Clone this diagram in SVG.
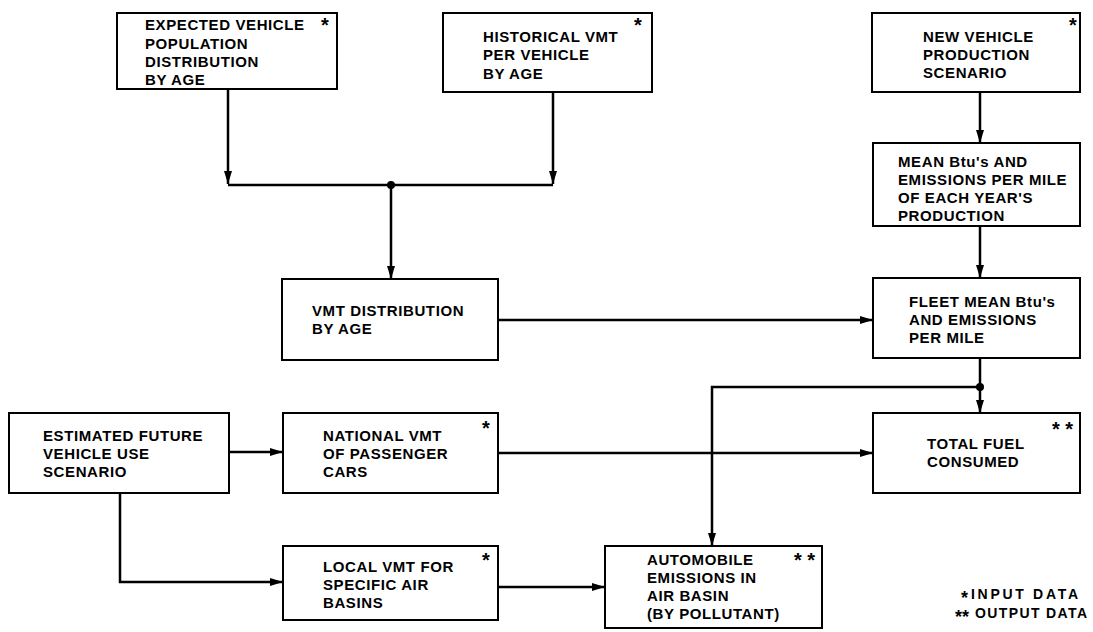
<svg xmlns="http://www.w3.org/2000/svg" width="1093" height="632" viewBox="0 0 1093 632">
<style>
.box{fill:#fff;stroke:#000;stroke-width:2}
.t{font-family:"Liberation Sans",Arial,sans-serif;font-weight:bold;font-size:15px;letter-spacing:0.6px;fill:#000}
.ast{font-family:"Liberation Sans",Arial,sans-serif;font-weight:bold;font-size:20px;fill:#000}
.la{font-family:"Liberation Sans",Arial,sans-serif;font-weight:bold;font-size:18px;fill:#000}
.lg{font-family:"Liberation Sans",Arial,sans-serif;font-weight:bold;font-size:14px;fill:#000}
.c{fill:none;stroke:#000;stroke-width:2.5}
</style>
<defs>
<marker id="ah" markerUnits="userSpaceOnUse" markerWidth="14" markerHeight="10" refX="13" refY="5" orient="auto">
<path d="M0,1 L13,5 L0,9 Z" fill="#000"/>
</marker>
</defs>
<rect width="1093" height="632" fill="#fff"/>
<g id="connectors">
<path class="c" d="M228,88 V184" marker-end="url(#ah)"/>
<path class="c" d="M553,92 V184" marker-end="url(#ah)"/>
<path class="c" d="M228,185 H553"/>
<circle cx="391" cy="185" r="4" fill="#000"/>
<path class="c" d="M391,185 V279" marker-end="url(#ah)"/>
<path class="c" d="M980,92 V143" marker-end="url(#ah)"/>
<path class="c" d="M980,226 V278" marker-end="url(#ah)"/>
<path class="c" d="M498,320 H873" marker-end="url(#ah)"/>
<path class="c" d="M980,358 V413" marker-end="url(#ah)"/>
<circle cx="980" cy="387" r="4" fill="#000"/>
<path class="c" d="M980,387 H712 V546" marker-end="url(#ah)"/>
<path class="c" d="M229,452 H283" marker-end="url(#ah)"/>
<path class="c" d="M498,453 H873" marker-end="url(#ah)"/>
<path class="c" d="M120,493 V582 H283" marker-end="url(#ah)"/>
<path class="c" d="M498,587 H605" marker-end="url(#ah)"/>
</g>
<g id="n_expected">
<rect class="box" x="117" y="13" width="220" height="76"/>
<text class="t" x="145" y="30">EXPECTED VEHICLE</text>
<text class="t" x="145" y="48.5">POPULATION</text>
<text class="t" x="145" y="67">DISTRIBUTION</text>
<text class="t" x="145" y="85">BY AGE</text>
<text class="ast" x="321" y="32">*</text>
</g>
<g id="n_historical">
<rect class="box" x="443" y="13" width="209" height="79"/>
<text class="t" x="483" y="42">HISTORICAL VMT</text>
<text class="t" x="483" y="60">PER VEHICLE</text>
<text class="t" x="483" y="79">BY AGE</text>
<text class="ast" x="634" y="32">*</text>
</g>
<g id="n_newvehicle">
<rect class="box" x="872" y="13" width="208" height="79"/>
<text class="t" x="923" y="42">NEW VEHICLE</text>
<text class="t" x="923" y="60">PRODUCTION</text>
<text class="t" x="923" y="78">SCENARIO</text>
<text class="ast" x="1069" y="32">*</text>
</g>
<g id="n_meanbtu">
<rect class="box" x="873" y="143" width="207" height="83"/>
<text class="t" x="898" y="167">MEAN Btu's AND</text>
<text class="t" x="898" y="185">EMISSIONS PER MILE</text>
<text class="t" x="898" y="203">OF EACH YEAR'S</text>
<text class="t" x="898" y="221">PRODUCTION</text>
</g>
<g id="n_fleet">
<rect class="box" x="873" y="278" width="207" height="80"/>
<text class="t" x="909" y="307">FLEET MEAN Btu's</text>
<text class="t" x="909" y="325">AND EMISSIONS</text>
<text class="t" x="909" y="343">PER MILE</text>
</g>
<g id="n_vmtdist">
<rect class="box" x="282" y="279" width="216" height="81"/>
<text class="t" x="312" y="316">VMT DISTRIBUTION</text>
<text class="t" x="312" y="334">BY AGE</text>
</g>
<g id="n_estimated">
<rect class="box" x="9" y="413" width="220" height="80"/>
<text class="t" x="43" y="441">ESTIMATED FUTURE</text>
<text class="t" x="43" y="459">VEHICLE USE</text>
<text class="t" x="43" y="477">SCENARIO</text>
</g>
<g id="n_national">
<rect class="box" x="283" y="413" width="215" height="80"/>
<text class="t" x="323" y="441">NATIONAL VMT</text>
<text class="t" x="323" y="459">OF PASSENGER</text>
<text class="t" x="323" y="477">CARS</text>
<text class="ast" x="482" y="435">*</text>
</g>
<g id="n_totalfuel">
<rect class="box" x="873" y="413" width="207" height="80"/>
<text class="t" x="927" y="449">TOTAL FUEL</text>
<text class="t" x="927" y="467">CONSUMED</text>
<text class="ast" x="1052" y="436">* *</text>
</g>
<g id="n_local">
<rect class="box" x="283" y="546" width="215" height="74"/>
<text class="t" x="323" y="572">LOCAL VMT FOR</text>
<text class="t" x="323" y="590">SPECIFIC AIR</text>
<text class="t" x="323" y="608">BASINS</text>
<text class="ast" x="482" y="567">*</text>
</g>
<g id="n_automobile">
<rect class="box" x="605" y="546" width="217" height="82"/>
<text class="t" x="647" y="565">AUTOMOBILE</text>
<text class="t" x="647" y="583">EMISSIONS IN</text>
<text class="t" x="647" y="601">AIR BASIN</text>
<text class="t" x="647" y="619">(BY POLLUTANT)</text>
<text class="ast" x="794" y="567">* *</text>
</g>
<g id="legend">
<text class="la" x="961" y="604">*</text>
<text class="lg" x="971" y="599" textLength="107" lengthAdjust="spacing">INPUT DATA</text>
<text class="la" x="955" y="623">**</text>
<text class="lg" x="975" y="618" textLength="112" lengthAdjust="spacing">OUTPUT DATA</text>
</g>
</svg>
